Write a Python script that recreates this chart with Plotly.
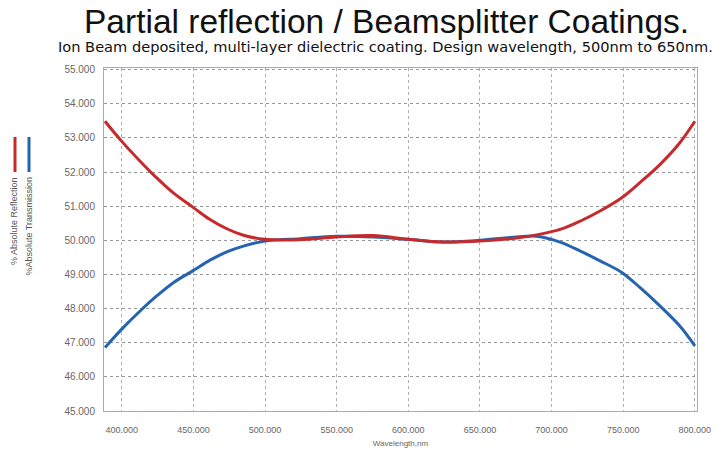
import plotly.graph_objects as go

# Wavelength (nm) and % values
wl_reflection = [388.3, 400, 412.8, 424.4, 436, 450, 461.6, 473.3, 484.9, 500, 524.4, 550, 575.6, 600,
                 624.4, 650, 675.6, 689.5, 705.9, 719.8, 733.8, 749, 761.6, 775.6, 789.5, 800]
reflection = [53.49, 52.9, 52.32, 51.83, 51.39, 50.96, 50.61, 50.34, 50.15, 50.03, 50.02, 50.1, 50.14, 50.03,
              49.95, 49.98, 50.07, 50.16, 50.32, 50.56, 50.86, 51.25, 51.69, 52.22, 52.86, 53.49]

wl_transmission = [388.3, 400, 412.8, 424.4, 436, 450, 461.6, 473.3, 484.9, 500, 524.4, 550, 575.6, 600,
                   624.4, 650, 675.6, 689.5, 705.9, 719.8, 733.8, 749, 761.6, 775.6, 789.5, 800]
transmission = [46.86, 47.4, 47.93, 48.37, 48.76, 49.12, 49.42, 49.66, 49.83, 49.98, 50.05, 50.12, 50.1, 50.03,
                49.95, 50.0, 50.1, 50.12, 49.95, 49.69, 49.4, 49.06, 48.62, 48.08, 47.49, 46.91]

x_ticks = [400, 450, 500, 550, 600, 650, 700, 750, 800]
y_ticks = [45, 46, 47, 48, 49, 50, 51, 52, 53, 54, 55]

title_text = "Partial reflection / Beamsplitter Coatings."
subtitle_text = "Ion Beam deposited, multi-layer dielectric coating. Design wavelength, 500nm to 650nm."
x_title = "Wavelength,nm"
legend_reflection = "% Absolute Reflection"
legend_transmission = "%Absolute Transmission"

RED = "#c62a2c"
BLUE = "#2464b0"

W, H = 718, 463
L, T = 104, 68
R, B = W - 697, H - 411
PW, PH = W - L - R, H - T - B


def fx(xwin):
    return (xwin - L) / PW


def fy(ywin):
    return (H - B - ywin) / PH


fig = go.Figure()
fig.add_trace(go.Scatter(x=wl_transmission, y=transmission, mode="lines",
                         line=dict(color=BLUE, width=3, shape="spline", smoothing=1.0), name=legend_transmission))
fig.add_trace(go.Scatter(x=wl_reflection, y=reflection, mode="lines",
                         line=dict(color=RED, width=3, shape="spline", smoothing=1.0), name=legend_reflection))

fig.update_layout(
    width=W, height=H,
    margin=dict(l=L, r=R, t=T, b=B),
    paper_bgcolor="white", plot_bgcolor="white",
    showlegend=False,
    font=dict(family="Liberation Sans, Arial, sans-serif", color="#555555"),
)
fig.update_xaxes(
    range=[387.6, 801.5], tickvals=x_ticks, ticktext=[f"{v:.3f}" for v in x_ticks],
    tickfont=dict(size=9, color="#666666"),
    showgrid=True, gridcolor="#b0b0b0", griddash="dot", gridwidth=1,
    showline=True, linecolor="#aaaaaa", linewidth=1, mirror=True,
    zeroline=False, ticks="", ticklabelstandoff=10, automargin=False,
    title=dict(text=x_title, font=dict(size=8, color="#666666"), standoff=6),
)
fig.update_yaxes(
    range=[45, 55.05], tickvals=y_ticks, ticktext=[f"{v:.3f}" for v in y_ticks],
    tickfont=dict(size=10, color="#666666"),
    showgrid=True, gridcolor="#999999", griddash="dot", gridwidth=1,
    showline=True, linecolor="#aaaaaa", linewidth=1, mirror=True,
    zeroline=False, ticks="", ticklabelstandoff=6, automargin=False,
)

# Titles
fig.add_annotation(text=title_text, xref="paper", yref="paper", x=fx(386.5), y=fy(21.5),
                   xanchor="center", yanchor="middle", showarrow=False,
                   font=dict(size=33.5, color="#111111", family="Liberation Sans, Arial, sans-serif"))
fig.add_annotation(text=subtitle_text, xref="paper", yref="paper", x=fx(385), y=fy(46.5),
                   xanchor="center", yanchor="middle", showarrow=False,
                   font=dict(size=14.6, color="#111111", family="DejaVu Sans, sans-serif"))

# Vertical legend on the left
for xpix, color, label in [(15, RED, legend_reflection), (29, BLUE, legend_transmission)]:
    fig.add_shape(type="line", xref="paper", yref="paper",
                  x0=fx(xpix), x1=fx(xpix), y0=fy(137), y1=fy(172),
                  line=dict(color=color, width=3))
    fig.add_annotation(text=label, xref="paper", yref="paper",
                       x=fx(xpix - 1), y=fy(175),
                       xanchor="center", yanchor="top", textangle=-90, showarrow=False,
                       font=dict(size=9, color="#555555"))

fig.write_html("out.html", config={"displayModeBar": False},
               post_script="document.body.style.margin='0';")
